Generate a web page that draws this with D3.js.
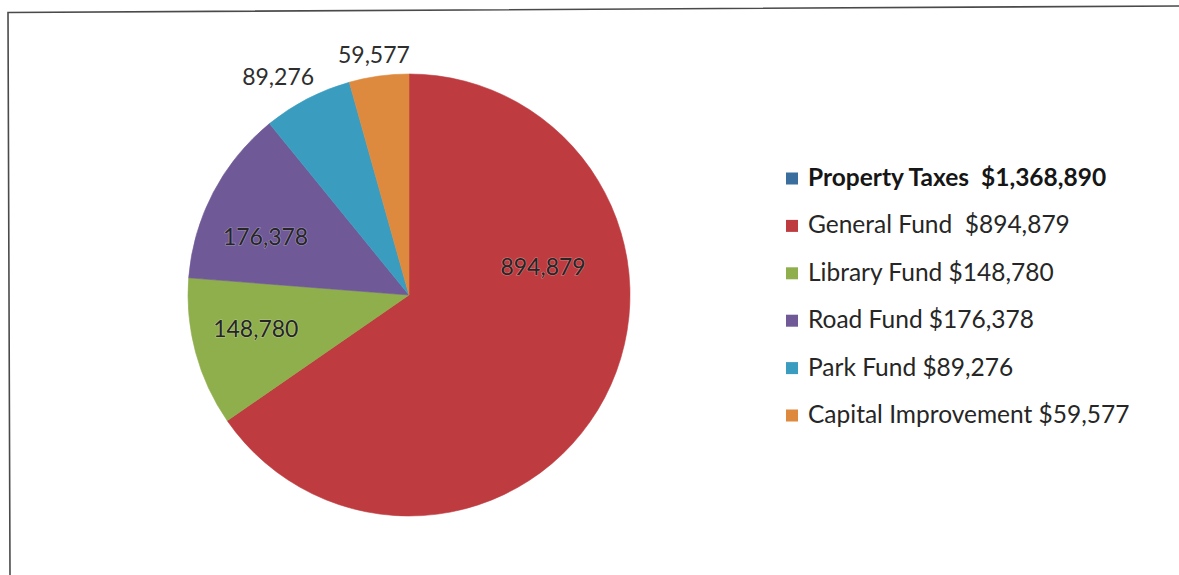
<!DOCTYPE html>
<html>
<head>
<meta charset="utf-8">
<script src="https://cdn.jsdelivr.net/npm/d3@7"></script>
<style>
  html, body { margin: 0; padding: 0; background: #fff; }
  svg { display: block; }
</style>
</head>
<body>
<svg id="chart" width="1179" height="575"></svg>
<script>
// Fund allocations of the property tax levy
const categories = ["General Fund", "Library Fund", "Road Fund", "Park Fund", "Capital Improvement"];
const values = [894879, 148780, 176378, 89276, 59577];
const sliceLabels = ["894,879", "148,780", "176,378", "89,276", "59,577"];
const legendLabels = [
  "Property Taxes  $1,368,890",
  "General Fund  $894,879",
  "Library Fund $148,780",
  "Road Fund $176,378",
  "Park Fund $89,276",
  "Capital Improvement $59,577"
];

// styling
const sliceColors = ["#BE3B40", "#8FAE4C", "#6F5A97", "#3A9DC0", "#DE8A3E"];
const legendColors = ["#3A6E9E", "#BE3B40", "#8FAE4C", "#6F5A97", "#3A9DC0", "#DE8A3E"];
// data-label placement: angle (deg, clockwise from top) and distance as a fraction of the radius
const labelSpots = [
  { angle: 78, r: 0.62, inside: true },
  { angle: 257.5, r: 0.71, inside: true },
  { angle: 292, r: 0.70, inside: true },
  { angle: 329, r: 1.15, inside: false },
  { angle: 351.7, r: 1.10, inside: false }
];

const svg = d3.select("#chart");
const cx = 409, cy = 295, R = 221;

// outer frame
svg.append("path")
  .attr("d", "M1179,6 L8,12.5 L10,575")
  .attr("fill", "none")
  .attr("stroke", "#4a4a4a")
  .attr("stroke-width", 1.6);

const pie = d3.pie().sort(null).value(d => d)
  .startAngle(0).endAngle(2 * Math.PI);
const arcs = pie(values);
const arc = d3.arc().innerRadius(0).outerRadius(R);

const g = svg.append("g").attr("transform", `translate(${cx},${cy})`);

g.selectAll("path.slice")
  .data(arcs)
  .join("path")
  .attr("class", "slice")
  .attr("d", arc)
  .attr("fill", (d, i) => sliceColors[i])
  .attr("stroke", (d, i) => sliceColors[i])
  .attr("stroke-width", 0.6);

const fontFamily = "Lato, 'Open Sans', sans-serif";

g.selectAll("text.val")
  .data(arcs)
  .join("text")
  .attr("class", "val")
  .attr("x", (d, i) => labelSpots[i].r * R * Math.sin(labelSpots[i].angle * Math.PI / 180))
  .attr("y", (d, i) => -labelSpots[i].r * R * Math.cos(labelSpots[i].angle * Math.PI / 180))
  .attr("dy", "0.35em")
  .attr("text-anchor", "middle")
  .attr("font-family", fontFamily)
  .attr("font-size", 23)
  .attr("fill", (d, i) => labelSpots[i].inside ? "#262626" : "#2e2e2e")
  .attr("stroke", (d, i) => labelSpots[i].inside ? "rgba(255,255,255,0.35)" : "none")
  .attr("stroke-width", 1.2)
  .attr("paint-order", "stroke")
  .text((d, i) => sliceLabels[i]);

// legend
const legend = svg.append("g").attr("transform", "translate(786,0)");
const rowY = d3.scaleLinear().domain([0, legendLabels.length - 1]).range([186, 423]);

const rows = legend.selectAll("g.row")
  .data(legendLabels)
  .join("g")
  .attr("class", "row")
  .attr("transform", (d, i) => `translate(0,${rowY(i)})`);

rows.append("rect")
  .attr("x", 0)
  .attr("y", -13.5)
  .attr("width", 12)
  .attr("height", 12)
  .attr("fill", (d, i) => legendColors[i]);

rows.append("text")
  .attr("x", 22)
  .attr("y", 0)
  .attr("font-family", fontFamily)
  .attr("font-size", 24.5)
  .attr("font-weight", (d, i) => i === 0 ? "bold" : "normal")
  .attr("fill", (d, i) => i === 0 ? "#161616" : "#262626")
  .attr("xml:space", "preserve")
  .style("white-space", "pre")
  .text(d => d);
</script>
</body>
</html>
